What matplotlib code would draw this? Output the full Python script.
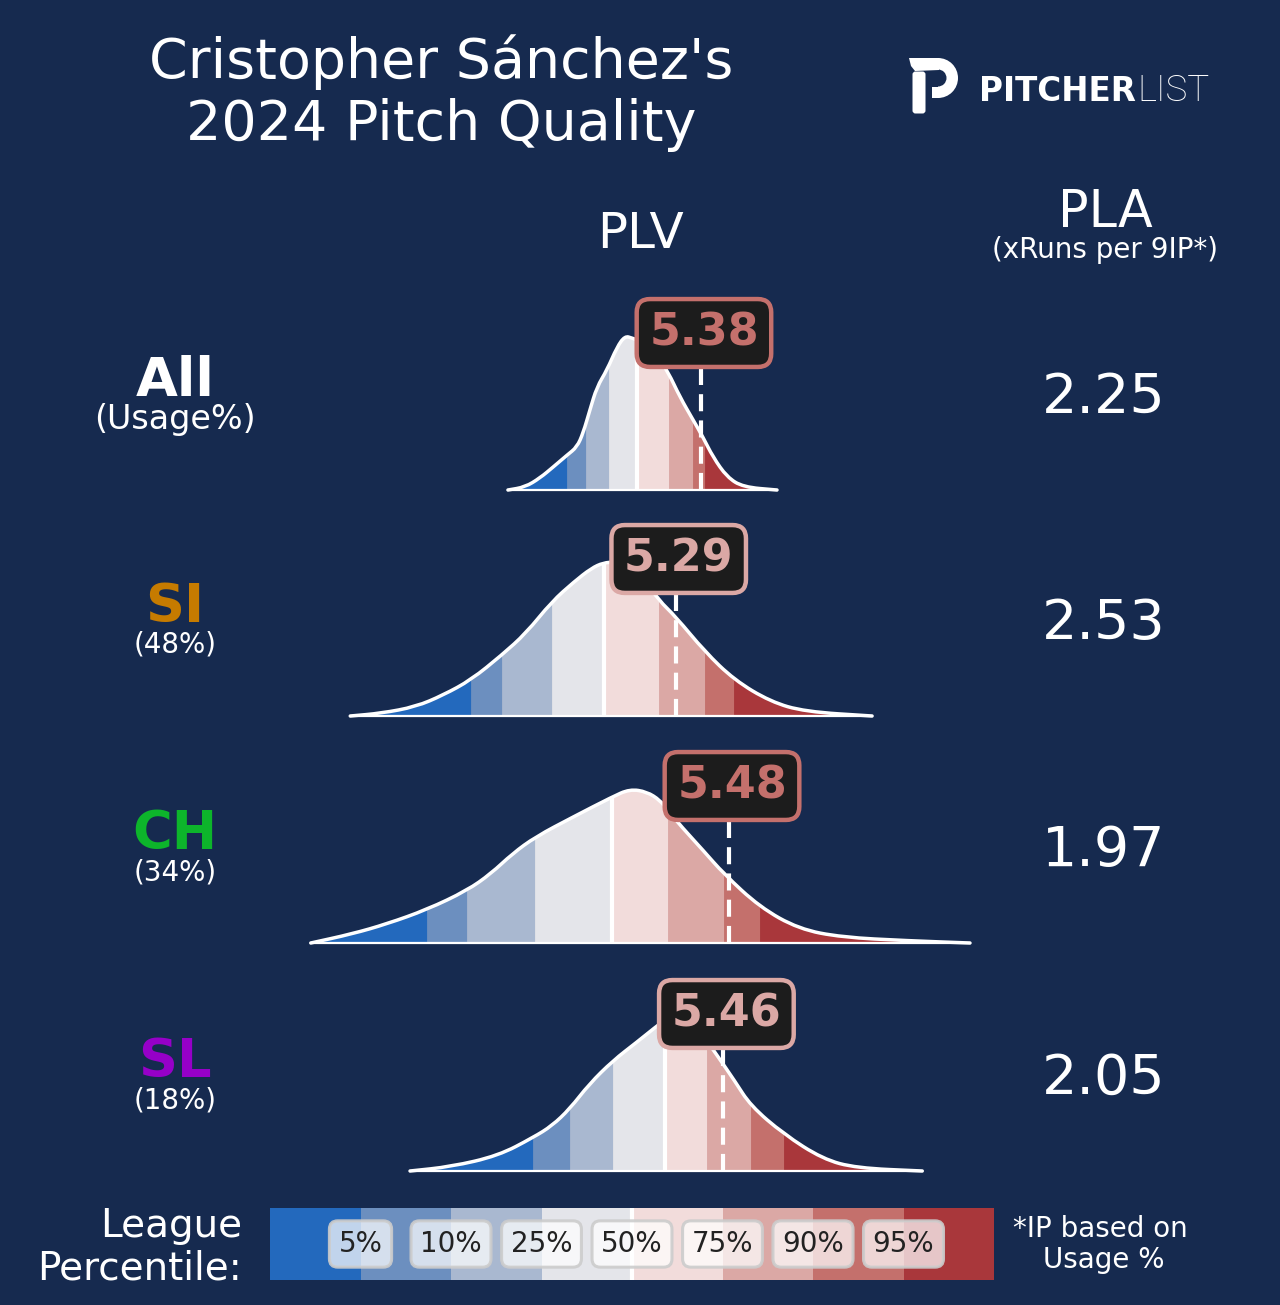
import matplotlib

matplotlib.use("Agg")
import matplotlib.pyplot as plt
import numpy as np
from matplotlib.patches import FancyBboxPatch, Polygon, Wedge, Rectangle, PathPatch
from matplotlib.path import Path

BG = "#162a4f"
W, H = 1280, 1305

TITLE = ["Cristopher Sánchez's", "2024 Pitch Quality"]

PITCHES = ["All", "SI", "CH", "SL"]
PITCH_COLORS = ["white", "#c67b00", "#0db52b", "#9600c8"]
USAGE = ["(Usage%)", "(48%)", "(34%)", "(18%)"]
PLV = [5.38, 5.29, 5.48, 5.46]
PLA = [2.25, 2.53, 1.97, 2.05]

PCTS = [5, 10, 25, 50, 75, 90, 95]
SEG_COLORS = ["#2369bd", "#6c8fbf", "#a9b8d0", "#e4e5ea",
              "#f2dcdb", "#dba8a5", "#c4706c", "#a9373b"]

# league PLV at the 5/10/25/50/75/90/95th percentile, per row
QUANT = [
    [4.903, 4.970, 5.052, 5.152, 5.266, 5.352, 5.394],
    [4.560, 4.671, 4.849, 5.033, 5.229, 5.394, 5.498],
    [4.403, 4.546, 4.790, 5.064, 5.261, 5.461, 5.590],
    [4.783, 4.912, 5.066, 5.253, 5.402, 5.557, 5.675],
]

# league density (scaled so the peak is 1)
KDE_X = [
    [4.692, 4.753, 4.806, 4.853, 4.903, 4.938, 4.960, 4.984, 5.009, 5.045, 5.081, 5.109,
     5.134, 5.181, 5.216, 5.263, 5.305, 5.352, 5.387, 5.423, 5.473, 5.530, 5.651],
    [4.130, 4.240, 4.363, 4.461, 4.560, 4.670, 4.756, 4.848, 4.928, 4.989, 5.032, 5.074,
     5.127, 5.181, 5.229, 5.290, 5.394, 5.499, 5.628, 5.751, 5.990],
    [3.989, 4.136, 4.260, 4.403, 4.546, 4.631, 4.708, 4.790, 4.925, 5.064, 5.126, 5.187,
     5.234, 5.263, 5.311, 5.388, 5.461, 5.590, 5.729, 5.883, 6.115, 6.339],
    [4.343, 4.488, 4.657, 4.783, 4.849, 4.912, 4.982, 5.066, 5.151, 5.217, 5.252, 5.298,
     5.341, 5.384, 5.434, 5.500, 5.557, 5.675, 5.814, 5.934, 6.169],
]
KDE_Y = [
    [0.0, 0.019, 0.078, 0.149, 0.227, 0.279, 0.370, 0.519, 0.669, 0.779, 0.929, 1.0,
     0.987, 0.955, 0.896, 0.766, 0.604, 0.455, 0.344, 0.214, 0.084, 0.019, 0.0],
    [0.0, 0.018, 0.060, 0.136, 0.234, 0.396, 0.537, 0.742, 0.872, 0.959, 0.995, 1.0,
     0.961, 0.883, 0.753, 0.645, 0.418, 0.234, 0.093, 0.028, 0.0],
    [0.0, 0.059, 0.124, 0.217, 0.341, 0.450, 0.580, 0.689, 0.819, 0.949, 0.999, 0.982,
     0.927, 0.860, 0.754, 0.601, 0.450, 0.233, 0.091, 0.037, 0.015, 0.0],
    [0.0, 0.028, 0.099, 0.219, 0.294, 0.403, 0.565, 0.716, 0.836, 0.933, 0.981, 1.0,
     0.974, 0.890, 0.760, 0.586, 0.424, 0.240, 0.078, 0.019, 0.0],
]

ROW_BASE = [490, 716, 943, 1171]     # pixel y of each density baseline
XLIM = (3.9506, 6.4461)              # PLV range of the 300..1000 px strip


def fpx(x0, y0, x1, y1):
    """pixel box (y down) -> figure fraction rect"""
    return [x0 / W, 1 - y1 / H, (x1 - x0) / W, (y1 - y0) / H]


def curve_path(xs, ys, close=False):
    """quadratic-bezier path through the read points (corners rounded at midpoints)"""
    verts = [(xs[0], ys[0]), ((xs[0] + xs[1]) / 2, (ys[0] + ys[1]) / 2)]
    codes = [Path.MOVETO, Path.LINETO]
    for k in range(1, len(xs) - 1):
        verts += [(xs[k], ys[k]), ((xs[k] + xs[k + 1]) / 2, (ys[k] + ys[k + 1]) / 2)]
        codes += [Path.CURVE3, Path.CURVE3]
    verts.append((xs[-1], ys[-1]))
    codes.append(Path.LINETO)
    if close:
        verts += [(xs[-1], 0), (xs[0], 0), (xs[0], ys[0])]
        codes += [Path.LINETO, Path.LINETO, Path.CLOSEPOLY]
    return Path(verts, codes)


fig = plt.figure(figsize=(W / 100, H / 100), dpi=100, facecolor=BG)
ov = fig.add_axes([0, 0, 1, 1])
ov.set_xlim(0, W)
ov.set_ylim(H, 0)
ov.axis("off")

# title + headers
ov.text(441, 78, TITLE[0], color="white", fontsize=40, ha="center", va="baseline")
ov.text(441, 140, TITLE[1], color="white", fontsize=40, ha="center", va="baseline")
ov.text(641, 248, "PLV", color="white", fontsize=36, ha="center", va="baseline")
ov.text(1105, 227, "PLA", color="white", fontsize=36.5, ha="center", va="baseline")
ov.text(1105, 250, "(xRuns per 9IP*)", color="white", fontsize=20, ha="center", va="center")

# logo
ov.add_patch(Polygon([(909, 58), (939, 58), (939, 70), (915, 71), (911, 66)],
                     closed=True, color="white", lw=0))
ov.add_patch(Wedge((938, 78), 20, -90, 90, width=11.5, color="white", lw=0))
ov.add_patch(Rectangle((932, 86.5), 7, 11.5, color="white", lw=0))
ov.add_patch(FancyBboxPatch((914, 73), 10, 39, boxstyle="round,pad=1.5,rounding_size=3",
                            color="white", lw=0))
ov.text(979, 101, "PITCHER", color="white", fontsize=23.5, fontweight="bold",
        ha="left", va="baseline")
ov.text(1137, 101, "LIST", color="white", fontsize=26.5, fontweight="light",
        family=["Roboto", "DejaVu Sans"], ha="left", va="baseline")

for i, name in enumerate(PITCHES):
    base = ROW_BASE[i]
    ov.text(175, base - 94, name, color=PITCH_COLORS[i], fontsize=39, fontweight="bold",
            ha="center", va="baseline")
    ov.text(175, base - 71, USAGE[i], color="white", fontsize=24 if i == 0 else 20,
            ha="center", va="center")
    ov.text(1104, base - 77, f"{PLA[i]:.2f}", color="white", fontsize=40,
            ha="center", va="baseline")

    ax = fig.add_axes(fpx(300, base - 200, 1000, base + 10))
    ax.set_facecolor("none")
    ax.set_xlim(*XLIM)
    ax.set_ylim(-10 / 154, 200 / 154)
    ax.axis("off")

    kx, ky = KDE_X[i], KDE_Y[i]
    region = PathPatch(curve_path(kx, ky, close=True), fc="none", lw=0,
                       transform=ax.transData)
    ax.add_patch(region)
    edges = [kx[0]] + QUANT[i] + [kx[-1]]
    for j in range(8):
        span = ax.axvspan(edges[j], edges[j + 1], color=SEG_COLORS[j], lw=0.6, zorder=1)
        span.set_clip_path(region)

    med = QUANT[i][3]
    mline, = ax.plot([med, med], [0, 1.2], color="white", lw=3, zorder=2,
                     solid_capstyle="butt")
    mline.set_clip_path(region)
    ax.add_patch(PathPatch(curve_path(kx, ky), fc="none", ec="white", lw=2.5,
                           zorder=3, capstyle="round", joinstyle="round"))
    ax.plot([kx[0], kx[-1]], [0, 0], color="white", lw=1.6, zorder=3)

    v = PLV[i]
    ax.plot([v, v], [0, 0.95], color="white", lw=3, dashes=(4.1, 2.2), zorder=4,
            solid_capstyle="butt")
    c = SEG_COLORS[np.searchsorted(QUANT[i], v)]
    ax.annotate(f"{v:.2f}", xy=(v, 157 / 154), xytext=(3, 0), textcoords="offset pixels",
                ha="center", va="center", fontsize=32, fontweight="bold", color=c, zorder=5,
                bbox=dict(boxstyle="round,pad=0.28,rounding_size=0.3", fc="#1c1c1c",
                          ec=c, lw=3.2))

# legend strip
lg = fig.add_axes(fpx(270, 1208, 994, 1280))
lg.set_xlim(0, 8)
lg.set_ylim(0, 1)
lg.axis("off")
lg.bar(np.arange(8) + 0.5, 1, width=1, color=SEG_COLORS, lw=0)
lg.axvline(4, color="white", lw=3)
for k, p in enumerate(PCTS):
    lg.text(k + 1, 0.5, f"{p}%", ha="center", va="center", fontsize=20, color="#222222",
            bbox=dict(boxstyle="round,pad=0.33,rounding_size=0.3", fc=(1, 1, 1, 0.72),
                      ec=(0.8, 0.8, 0.8, 0.9), lw=2.2))

ov.text(242, 1237, "League", color="white", fontsize=28, ha="right", va="baseline")
ov.text(242, 1280, "Percentile:", color="white", fontsize=28, ha="right", va="baseline")
ov.text(1100, 1237, "*IP based on", color="white", fontsize=20, ha="center", va="baseline")
ov.text(1104, 1268, "Usage %", color="white", fontsize=20, ha="center", va="baseline")

fig.savefig("out.png", dpi=100, facecolor=BG)
